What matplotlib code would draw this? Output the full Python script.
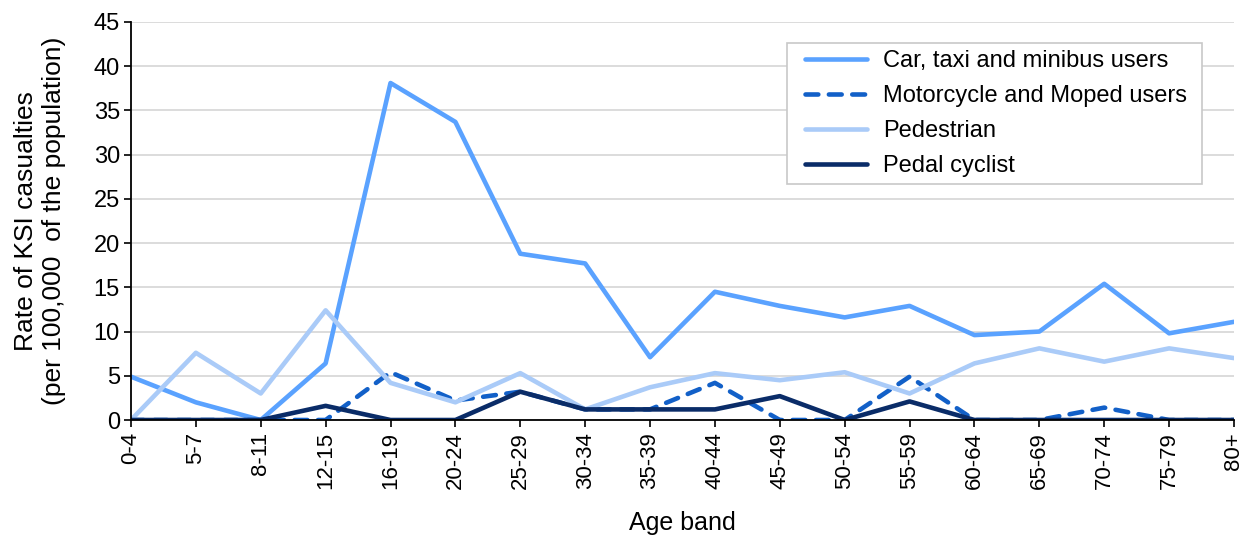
import matplotlib
matplotlib.use("Agg")
import matplotlib.pyplot as plt
from matplotlib.patches import Rectangle

plt.rcParams["font.family"] = ["Liberation Sans", "DejaVu Sans"]

age_bands = ["0-4", "5-7", "8-11", "12-15", "16-19", "20-24", "25-29", "30-34",
             "35-39", "40-44", "45-49", "50-54", "55-59", "60-64", "65-69",
             "70-74", "75-79", "80+"]
car = [4.9, 2.0, 0.0, 6.4, 38.1, 33.7, 18.8, 17.7, 7.1, 14.5, 12.9, 11.6,
       12.9, 9.6, 10.0, 15.4, 9.8, 11.1]
moto = [0.0, 0.0, 0.0, 0.0, 5.4, 2.2, 3.2, 1.2, 1.2, 4.2, 0.0, 0.0,
        4.9, 0.0, 0.0, 1.4, 0.0, 0.0]
pedestrian = [0.0, 7.6, 3.0, 12.4, 4.2, 2.0, 5.3, 1.2, 3.7, 5.3, 4.5, 5.4,
              3.0, 6.4, 8.1, 6.6, 8.1, 7.0]
pedal = [0.0, 0.0, 0.0, 1.6, 0.0, 0.0, 3.2, 1.2, 1.2, 1.2, 2.7, 0.0,
         2.1, 0.0, 0.0, 0.0, 0.0, 0.0]

C_CAR = "#5AA2FF"
C_MOTO = "#1260C8"
C_PED = "#AACBF8"
C_PEDAL = "#0A2C68"

fig = plt.figure(figsize=(12.51, 5.36), dpi=100)
ax = fig.add_axes([0.1047, 0.2164, 0.8817, 0.7426])

x = list(range(len(age_bands)))
LW = 3.3
ax.plot(x, car, color=C_CAR, lw=LW, label="Car, taxi and minibus users",
        solid_capstyle="round", zorder=3)
ax.plot(x, moto, color=C_MOTO, lw=LW, ls=(0, (2.8, 2.3)),
        dash_capstyle="round", label="Motorcycle and Moped users", zorder=3)
ax.plot(x, pedestrian, color=C_PED, lw=LW, label="Pedestrian",
        solid_capstyle="round", zorder=3)
ax.plot(x, pedal, color=C_PEDAL, lw=LW, label="Pedal cyclist",
        solid_capstyle="round", zorder=4)

ax.set_xlim(0, len(age_bands) - 1)
ax.set_ylim(0, 45)
ax.set_yticks(range(0, 46, 5))
ax.set_xticks(x)
ax.set_xticklabels(age_bands, rotation=90, fontsize=16)
ax.tick_params(axis="y", labelsize=17, pad=3)
ax.tick_params(direction="out", length=5, width=1.2, color="black")
ax.grid(axis="y", color="#d9d9d9", lw=1.3, zorder=0)
ax.set_axisbelow(True)
for s in ["top", "right"]:
    ax.spines[s].set_visible(False)
for s in ["left", "bottom"]:
    ax.spines[s].set_linewidth(1.3)
    ax.spines[s].set_zorder(5)

ax.set_xlabel("Age band", fontsize=18, labelpad=16)
ax.set_ylabel("Rate of KSI casualties\n(per 100,000  of the population)",
              fontsize=19, labelpad=20, linespacing=1.2)

# legend without its own frame; the box is drawn separately so that the
# left padding can be wider than the top/bottom padding
leg = ax.legend(loc="upper right", bbox_to_anchor=(0.964, 0.947), fontsize=17,
                frameon=False, handlelength=2.6,
                handletextpad=0.7, borderpad=0.3, labelspacing=0.55,
                borderaxespad=0)
leg.set_zorder(7)
ax.add_patch(Rectangle((0.5947, 0.593), 0.3762, 0.354, transform=ax.transAxes,
                       facecolor="white", edgecolor="#c8c8c8", lw=1.2,
                       zorder=6))

fig.savefig("out.png", dpi=100)
